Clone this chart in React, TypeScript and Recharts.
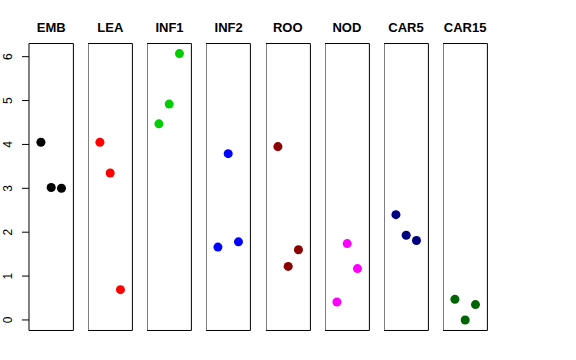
import React from 'react'
import { ScatterChart, Scatter, XAxis, YAxis, ZAxis, ReferenceArea } from 'recharts'

const PANELS = ['EMB', 'LEA', 'INF1', 'INF2', 'ROO', 'NOD', 'CAR5', 'CAR15']
const COLORS = ['#000000', '#ff0000', '#00cd00', '#0000ff', '#8b0000', '#ff00ff', '#000080', '#006400']
const POSITIONS = [1, 2, 3]

const embValues = [4.05, 3.02, 3.0]
const leaValues = [4.05, 3.35, 0.69]
const inf1Values = [4.47, 4.92, 6.07]
const inf2Values = [1.66, 3.79, 1.78]
const rooValues = [3.95, 1.22, 1.6]
const nodValues = [0.41, 1.74, 1.17]
const car5Values = [2.4, 1.93, 1.81]
const car15Values = [0.47, 0.0, 0.35]

const VALUES = [embValues, leaValues, inf1Values, inf2Values, rooValues, nodValues, car5Values, car15Values]
const Y_TICKS = [0, 1, 2, 3, 4, 5, 6]

const X_DOMAIN: [number, number] = [-0.16, 4.16]
const Y_DOMAIN: [number, number] = [-0.24, 6.3]

// layout of the small multiples
const FIRST_LEFT = 29
const STEP = 59.14
const PANEL_W = 44.4
const TOP = 43.5
const BOTTOM = 29.5
const AXIS_W = 29
const FONT = '"Liberation Sans", Arial, Helvetica, sans-serif'

const YTick = (props: any) => {
  const { x, y, payload } = props
  return (
    <text
      x={x}
      y={y}
      transform={`rotate(-90, ${x}, ${y})`}
      textAnchor="middle"
      fontSize={12}
      fontFamily={FONT}
      fill="#000"
    >
      {payload.value}
    </text>
  )
}

function Panel({ idx }: { idx: number }) {
  const first = idx === 0
  const data = POSITIONS.map((p, i) => ({ x: p, y: VALUES[idx][i] }))
  const left = first ? 0 : FIRST_LEFT + idx * STEP
  // +1 so the right edge of the frame isn't clipped
  const width = (first ? AXIS_W + PANEL_W : PANEL_W) + 1
  return (
    <div style={{ position: 'absolute', left, top: 0 }}>
      <ScatterChart width={width} height={360} margin={{ top: TOP, bottom: BOTTOM, left: 0, right: 1 }}>
        <XAxis type="number" dataKey="x" domain={X_DOMAIN} allowDataOverflow hide />
        <YAxis
          type="number"
          dataKey="y"
          domain={Y_DOMAIN}
          allowDataOverflow
          ticks={Y_TICKS}
          hide={!first}
          width={AXIS_W}
          axisLine={false}
          tickSize={7}
          tickMargin={9.5}
          tickLine={{ stroke: '#000' }}
          tick={<YTick />}
        />
        <ZAxis range={[34, 34]} />
        <ReferenceArea
          x1={X_DOMAIN[0]}
          x2={X_DOMAIN[1]}
          y1={Y_DOMAIN[0]}
          y2={Y_DOMAIN[1]}
          fill="none"
          fillOpacity={0}
          stroke="#000"
          strokeWidth={1}
          ifOverflow="visible"
        />
        <Scatter data={data} fill={COLORS[idx]} isAnimationActive={false} />
      </ScatterChart>
      <div
        style={{
          position: 'absolute',
          top: 20,
          left: first ? AXIS_W : 0,
          width: PANEL_W,
          textAlign: 'center',
          fontFamily: FONT,
          fontWeight: 'bold',
          fontSize: 13,
          lineHeight: '16px',
          whiteSpace: 'nowrap',
        }}
      >
        {PANELS[idx]}
      </div>
    </div>
  )
}

export default function App() {
  return (
    <div style={{ position: 'absolute', left: 0, top: 0, width: 576, height: 360, background: '#fff' }}>
      {PANELS.map((_, i) => (
        <Panel key={i} idx={i} />
      ))}
    </div>
  )
}
